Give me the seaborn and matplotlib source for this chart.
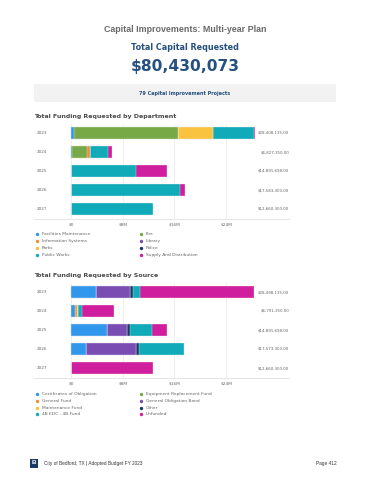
"""Capital improvements multi-year plan: stacked funding bars by department and by source."""
import matplotlib.pyplot as plt
import numpy as np
import pandas as pd
import seaborn as sns

years = ["2023", "2024", "2025", "2026", "2027"]

# funding by department (millions of $)
departments = [
    "Facilities Maintenance", "Fire", "Information Systems", "Library",
    "Parks", "Police", "Public Works", "Supply And Distribution",
]
dept_values = [
    [0.45, 0.15, 0.0, 0.0, 0.0],
    [16.1, 2.4, 0.0, 0.0, 0.0],
    [0.0, 0.4, 0.0, 0.0, 0.0],
    [0.0, 0.0, 0.0, 0.0, 0.0],
    [5.45, 0.0, 0.0, 0.0, 0.0],
    [0.0, 0.0, 0.0, 0.0, 0.0],
    [6.3, 2.85, 10.0, 16.8, 12.75],
    [0.1, 0.55, 4.9, 0.8, 0.0],
]
dept_totals = ["$28,408,135.00", "$6,827,350.00", "$14,891,698.00", "$17,583,300.00", "$12,660,300.00"]

# funding by source (millions of $)
sources = [
    "Certificates of Obligation", "Equipment Replacement Fund", "General Fund",
    "General Obligation Bond", "Maintenance Fund", "Other", "4B EDC - 4B Fund", "Unfunded",
]
source_values = [
    [3.8, 0.55, 5.5, 2.3, 0.0],
    [0.0, 0.0, 0.0, 0.0, 0.0],
    [0.0, 0.45, 0.0, 0.0, 0.0],
    [5.3, 0.0, 3.1, 7.7, 0.0],
    [0.0, 0.1, 0.0, 0.0, 0.0],
    [0.5, 0.0, 0.5, 0.5, 0.0],
    [1.1, 0.6, 3.5, 7.0, 0.0],
    [17.6, 4.9, 2.3, 0.0, 12.7],
]
source_totals = ["$28,498,135.00", "$6,791,350.00", "$14,891,698.00", "$17,573,300.00", "$12,660,300.00"]

palette = ["#3197ec", "#78a947", "#ef8c3b", "#7a4db3", "#f9c23f", "#173c68", "#10aab8", "#cf1e9e"]

sns.set_style("white")
plt.rcParams["font.family"] = ["DejaVu Sans"]

W, H = 370, 480
fig = plt.figure(figsize=(W / 100, H / 100), dpi=100)

# page overlay in pixel coordinates
page = fig.add_axes([0, 0, 1, 1])
page.set_xlim(0, W)
page.set_ylim(H, 0)
page.axis("off")

title_blue = "#25507f"
label_grey = "#666666"
page.text(185, 30, "Capital Improvements: Multi-year Plan", ha="center", va="center",
          fontsize=6.4, fontweight="bold", color="#6a6a6a", family="Liberation Sans")
page.text(185, 48, "Total Capital Requested", ha="center", va="center",
          fontsize=5.8, fontweight="bold", color=title_blue)
page.text(185, 66, "$80,430,073", ha="center", va="center",
          fontsize=11.2, fontweight="bold", color=title_blue)
page.add_patch(plt.Rectangle((34, 84), 302, 17.5, color="#f2f2f2", lw=0))
page.text(185, 93, "79 Capital Improvement Projects", ha="center", va="center",
          fontsize=3.5, fontweight="bold", color=title_blue)

px_per_8m = 51.7
x0_px = 71


def stacked(top_px, names, values, totals, heading, legend_y):
    bottom_px = top_px + 95
    left_px, right_px = 34, 289
    ax = fig.add_axes([left_px / W, 1 - bottom_px / H, (right_px - left_px) / W, 95 / H])
    ax.set_zorder(2)
    ax.patch.set_alpha(0)
    df = pd.DataFrame(np.array(values).T, columns=names)
    df.insert(0, "year", years)
    cum = df[names].cumsum(axis=1)
    # draw from the full stack down so each layer covers the one beneath
    for i in range(len(names) - 1, -1, -1):
        layer = pd.DataFrame({"year": years, "value": cum[names[i]].values})
        sns.barplot(data=layer, x="value", y="year", orient="h", order=years,
                    color=palette[i], saturation=1, width=0.62,
                    edgecolor="#f4f4f4", linewidth=0.25, ax=ax)
    xl = (left_px - x0_px) / px_per_8m * 8
    xr = (right_px - x0_px) / px_per_8m * 8
    ax.set_xlim(xl, xr)
    ax.set_ylim(4.5, -0.5)
    ax.set_xticks([0, 8, 16, 24], ["$0", "$8M", "$16M", "$24M"])
    ax.set_yticks([])
    ax.set_xlabel("")
    ax.set_ylabel("")
    ax.tick_params(axis="x", length=0, pad=3, labelsize=3.1, labelcolor=label_grey)
    ax.grid(axis="x", color="#e8e8e8", lw=0.5)
    ax.set_axisbelow(True)
    for s in ["top", "left", "right"]:
        ax.spines[s].set_visible(False)
    ax.spines["bottom"].set_color("#dcdcdc")
    ax.spines["bottom"].set_linewidth(0.5)
    for i, (yr, tot) in enumerate(zip(years, totals)):
        ax.text(xl + 0.35, i, yr, va="center", ha="left", fontsize=3.0, color=label_grey)
        ax.text(xr, i, tot, va="center", ha="right", fontsize=2.9, color=label_grey)

    page.text(34, top_px - 7, heading, ha="left", va="center", fontsize=4.5,
              fontweight="semibold", color="#4a4a4a")
    for k, name in enumerate(names):
        col, row = k % 2, k // 2
        x = 37 if col == 0 else 141
        y = legend_y + row * 6.8
        page.scatter([x], [y], s=6, color=palette[k], lw=0)
        page.text(x + 5, y, name, ha="left", va="center", fontsize=3.2, color=label_grey)


stacked(123.5, departments, dept_values, dept_totals,
        "Total Funding Requested by Department", 234.3)
stacked(282.5, sources, source_values, source_totals,
        "Total Funding Requested by Source", 394)

# footer
page.add_patch(plt.Rectangle((30, 458.5), 8, 9, color="#183a63", lw=0))
page.text(34, 463, "B", ha="center", va="center", fontsize=4.5, fontweight="bold",
          color="white", family="Liberation Sans")
page.text(44, 463, "City of Bedford, TX | Adopted Budget FY 2023", ha="left", va="center",
          fontsize=3.4, color="#333333", family="Liberation Sans")
page.text(337, 463, "Page 412", ha="right", va="center", fontsize=3.4,
          color="#333333", family="Liberation Sans")

fig.savefig("out.png", dpi=100)
